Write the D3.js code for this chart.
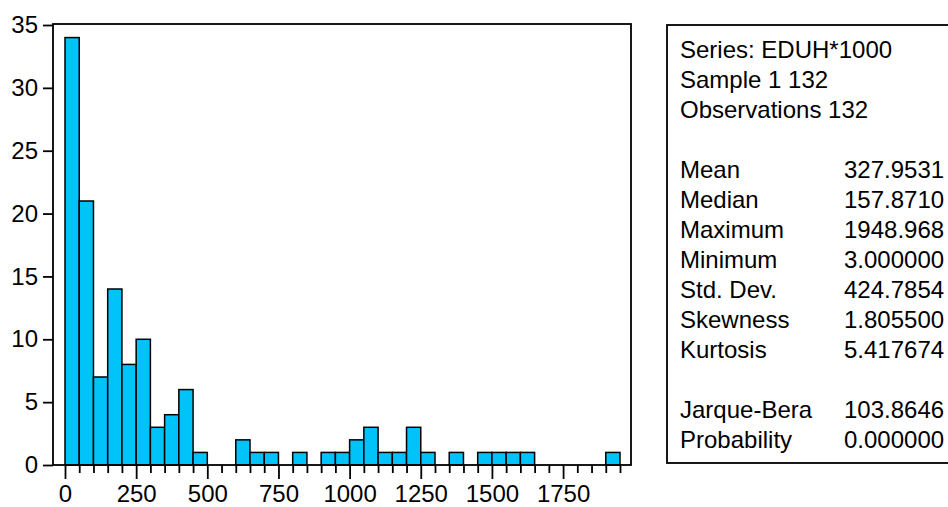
<!DOCTYPE html>
<html>
<head>
<meta charset="utf-8">
<script src="https://cdn.jsdelivr.net/npm/d3@7"></script>
<style>
  html, body { margin: 0; padding: 0; background: #fff; }
  svg { display: block; }
  text { font-family: "Liberation Sans", Arial, sans-serif; fill: #000; }
</style>
</head>
<body>
<svg id="chart" width="948" height="507"></svg>
<script>
// ---- data ----
const binWidth = 50;
const binStarts = d3.range(0, 1950, 50);
const counts = [34, 21, 7, 14, 8, 10, 3, 4, 6, 1,
                0, 0, 2, 1, 1, 0, 1, 0, 1, 1,
                2, 3, 1, 1, 3, 1, 0, 1, 0, 1,
                1, 1, 1, 0, 0, 0, 0, 0, 1];
const xTickLabels = [0, 250, 500, 750, 1000, 1250, 1500, 1750];
const yTickLabels = [0, 5, 10, 15, 20, 25, 30, 35];
const statsHeader = ["Series: EDUH*1000", "Sample 1 132", "Observations 132"];
const statNames = ["Mean", "Median", "Maximum", "Minimum", "Std. Dev.", "Skewness", "Kurtosis"];
const statValues = ["327.9531", "157.8710", "1948.968", "3.000000", "424.7854", "1.805500", "5.417674"];
const testNames = ["Jarque-Bera", "Probability"];
const testValues = ["103.8646", "0.000000"];

// ---- layout ----
const svg = d3.select("#chart");
const frame = { left: 53, right: 631, top: 24, bottom: 465 };
const x = d3.scaleLinear().domain([0, 1950]).range([65, 620]);
const y = d3.scaleLinear().domain([0, 35]).range([465, 25]);
const fontSize = 24;
const barColor = "#00c3fa";

// bars
svg.append("g").selectAll("rect")
  .data(binStarts.map((s, i) => ({ s, c: counts[i] })).filter(d => d.c > 0))
  .join("rect")
  .attr("x", d => x(d.s))
  .attr("width", d => x(d.s + binWidth) - x(d.s))
  .attr("y", d => y(d.c))
  .attr("height", d => y(0) - y(d.c))
  .attr("fill", barColor)
  .attr("stroke", "#000")
  .attr("stroke-width", 1.5);

// frame
svg.append("rect")
  .attr("x", frame.left).attr("y", frame.top)
  .attr("width", frame.right - frame.left).attr("height", frame.bottom - frame.top)
  .attr("fill", "none").attr("stroke", "#000").attr("stroke-width", 1.8);

// x axis: major ticks every 250, minor every 50
const xMajor = d3.axisBottom(x).tickValues(xTickLabels).tickSize(14).tickSizeOuter(0).tickPadding(6)
  .tickFormat(d3.format("d"));
const gx = svg.append("g").attr("transform", `translate(0,${frame.bottom})`).call(xMajor);
gx.select(".domain").remove();
gx.selectAll("line").attr("stroke", "#000").attr("stroke-width", 1.8);
gx.selectAll("text").style("font-size", fontSize + "px").style("font-family", '"Liberation Sans", Arial, sans-serif');

const minorVals = d3.range(0, 1951, 50).filter(v => v % 250 !== 0);
const xMinor = d3.axisBottom(x).tickValues(minorVals).tickSize(8).tickSizeOuter(0).tickFormat("");
const gxm = svg.append("g").attr("transform", `translate(0,${frame.bottom})`).call(xMinor);
gxm.select(".domain").remove();
gxm.selectAll("line").attr("stroke", "#000").attr("stroke-width", 1.8);

// y axis
const yAxis = d3.axisLeft(y).tickValues(yTickLabels).tickSize(10).tickSizeOuter(0).tickPadding(5)
  .tickFormat(d3.format("d"));
const gy = svg.append("g").attr("transform", `translate(${frame.left},0)`).call(yAxis);
gy.select(".domain").remove();
gy.selectAll("line").attr("stroke", "#000").attr("stroke-width", 1.8);
gy.selectAll("text").style("font-size", fontSize + "px").style("font-family", '"Liberation Sans", Arial, sans-serif');

// stats panel
const panel = { left: 667, top: 25, right: 960, bottom: 463 };
svg.append("rect")
  .attr("x", panel.left).attr("y", panel.top)
  .attr("width", panel.right - panel.left).attr("height", panel.bottom - panel.top)
  .attr("fill", "none").attr("stroke", "#000").attr("stroke-width", 1.8);

const rows = [];
statsHeader.forEach(t => rows.push({ name: t, value: "" }));
rows.push({ name: "", value: "" });
statNames.forEach((n, i) => rows.push({ name: n, value: statValues[i] }));
rows.push({ name: "", value: "" });
testNames.forEach((n, i) => rows.push({ name: n, value: testValues[i] }));

const rowY = d3.scaleLinear().domain([0, rows.length - 1]).range([58, 448]);
const pg = svg.append("g").style("font-size", fontSize + "px");
pg.selectAll("text.name").data(rows).join("text")
  .attr("class", "name")
  .attr("x", 680).attr("y", (d, i) => rowY(i))
  .text(d => d.name);
pg.selectAll("text.value").data(rows).join("text")
  .attr("class", "value")
  .attr("x", 844).attr("y", (d, i) => rowY(i))
  .text(d => d.value);
</script>
</body>
</html>
